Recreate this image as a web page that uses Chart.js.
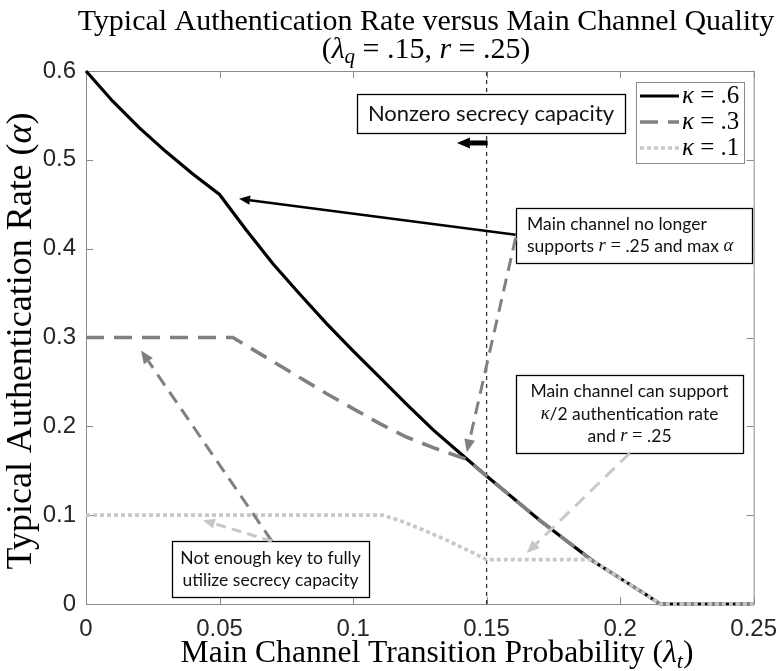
<!DOCTYPE html>
<html lang="en">
<head>
  <meta charset="UTF-8">
  <title>Typical Authentication Rate versus Main Channel Quality</title>
  <script src="https://cdn.jsdelivr.net/npm/chart.js"></script>
  <style>
    body { margin: 0; padding: 0; background: #fff; }
    .chart-wrapper { width: 780px; height: 671px; }
  </style>
</head>
<body>
  <div class="chart-wrapper"><canvas id="authChart" width="780" height="671"></canvas></div>

  <script>
    // kappa = .6 (solid black)
    const lambdaK6 = [0, 0.01, 0.02, 0.03, 0.04, 0.05, 0.06, 0.07, 0.08, 0.09, 0.10, 0.11, 0.12, 0.13, 0.14, 0.15, 0.16, 0.17, 0.18, 0.19, 0.20, 0.21, 0.215, 0.25];
    const alphaK6  = [0.6, 0.566, 0.536, 0.509, 0.484, 0.461, 0.421, 0.383, 0.349, 0.316, 0.285, 0.255, 0.225, 0.196, 0.170, 0.144, 0.119, 0.094, 0.071, 0.048, 0.029, 0.010, 0, 0];

    // kappa = .3 (gray dashed)
    const lambdaK3 = [0, 0.055, 0.07, 0.08, 0.09, 0.10, 0.11, 0.12, 0.13, 0.1425, 0.15, 0.16, 0.17, 0.18, 0.19, 0.20, 0.21, 0.215, 0.25];
    const alphaK3  = [0.3, 0.3, 0.273, 0.255, 0.237, 0.220, 0.203, 0.188, 0.176, 0.163, 0.144, 0.119, 0.094, 0.071, 0.048, 0.029, 0.010, 0, 0];

    // kappa = .1 (light gray dotted)
    const lambdaK1 = [0, 0.111, 0.1175, 0.125, 0.135, 0.1426, 0.15, 0.1885, 0.19, 0.20, 0.21, 0.215, 0.25];
    const alphaK1  = [0.1, 0.1, 0.094, 0.085, 0.072, 0.061, 0.05, 0.05, 0.048, 0.029, 0.010, 0, 0];

    const lambdaQ = 0.15;

    const seriesLabels = ["κ = .6", "κ = .3", "κ = .1"];

    const xTickValues = [0, 0.05, 0.1, 0.15, 0.2, 0.25];
    const xTickLabels = ["0", "0.05", "0.1", "0.15", "0.2", "0.25"];
    const yTickValues = [0, 0.1, 0.2, 0.3, 0.4, 0.5, 0.6];
    const yTickLabels = ["0", "0.1", "0.2", "0.3", "0.4", "0.5", "0.6"];

    const SERIF = "'Liberation Serif', serif";
    const SANS = "'Liberation Sans', Arial, sans-serif";
    const NOTE = "Lato, 'Open Sans', sans-serif";

    // text boxes, corners in data units; each line is a list of [text, style]
    const notes = [
      { x0: 0.1014, x1: 0.2017, y0: 0.574, y1: 0.5303, size: 22, align: "center",
        lines: [[["Nonzero secrecy capacity", ""]]] },
      { x0: 0.1609, x1: 0.2493, y0: 0.446, y1: 0.384, size: 17.5, align: "left",
        lines: [[["Main channel no longer", ""]],
                [["supports ", ""], ["r", "m"], [" = ", "o"], [".25 and max ", ""], ["α", "m"]]] },
      { x0: 0.1609, x1: 0.2459, y0: 0.2573, y1: 0.1697, size: 17.5, align: "center",
        lines: [[["Main channel can support", ""]],
                [["κ", "m"], ["/2 authentication rate", ""]],
                [["and ", ""], ["r", "m"], [" = ", "o"], [".25", ""]]] },
      { x0: 0.0322, x1: 0.1059, y0: 0.0708, y1: 0.0079, size: 17.5, align: "center",
        lines: [[["Not enough key to fully", ""]],
                [["utilize secrecy capacity", ""]]] }
    ];

    // arrows, from -> to in data units
    const arrows = [
      { from: [0.1609, 0.4157], to: [0.0573, 0.4562], color: "#000000", width: 2.5, dash: [], head: 11 },
      { from: [0.1609, 0.4124], to: [0.1426, 0.1708], color: "#808080", width: 3, dash: [13, 8], head: 13 },
      { from: [0.0696, 0.0708], to: [0.0206, 0.2854], color: "#808080", width: 3, dash: [13, 8], head: 13 },
      { from: [0.0696, 0.0708], to: [0.0438, 0.0944], color: "#c8c8c8", width: 3, dash: [10, 6], head: 12 },
      { from: [0.2036, 0.1697], to: [0.1650, 0.0573], color: "#c8c8c8", width: 3, dash: [13, 8], head: 13 },
      { from: [0.1504, 0.519], to: [0.1389, 0.519], color: "#000000", width: 5, dash: [], head: 13 }
    ];

    function fontFor(style, size) {
      if (style === "m") return "italic " + (size + 1) + "px " + SERIF;
      if (style === "o") return (size + 1) + "px " + SERIF;
      if (style === "s") return "italic " + Math.round(size * 0.7) + "px " + SERIF;
      if (style === "si") return "italic " + size + "px " + SERIF;
      if (style === "t") return size + "px " + SERIF;
      return size + "px " + NOTE;
    }

    function richWidth(ctx, parts, size) {
      let w = 0;
      parts.forEach(([t, st]) => {
        ctx.font = fontFor(st, size);
        w += ctx.measureText(t).width;
      });
      return w;
    }

    // font size that makes a label span a given width
    function fitSize(ctx, parts, target) {
      return 30 * target / richWidth(ctx, parts, 30);
    }

    function drawRich(ctx, parts, x, y, size, align) {
      const w = richWidth(ctx, parts, size);
      let cx = align === "center" ? x - w / 2 : x;
      ctx.textBaseline = "middle";
      ctx.textAlign = "left";
      parts.forEach(([t, st]) => {
        ctx.font = fontFor(st, size);
        const dy = st === "s" ? size * 0.25 : 0;
        ctx.fillText(t, cx, y + dy);
        cx += ctx.measureText(t).width;
      });
    }

    function drawArrow(ctx, x0, y0, x1, y1, a) {
      const ang = Math.atan2(y1 - y0, x1 - x0);
      const h = a.head;
      const bx = x1 - Math.cos(ang) * h, by = y1 - Math.sin(ang) * h;
      ctx.save();
      ctx.strokeStyle = a.color;
      ctx.fillStyle = a.color;
      ctx.lineWidth = a.width;
      ctx.setLineDash(a.dash);
      ctx.beginPath();
      ctx.moveTo(x0, y0);
      ctx.lineTo(bx, by);
      ctx.stroke();
      ctx.setLineDash([]);
      const hw = h * 0.42;
      ctx.beginPath();
      ctx.moveTo(x1, y1);
      ctx.lineTo(bx + Math.sin(ang) * hw, by - Math.cos(ang) * hw);
      ctx.lineTo(bx - Math.sin(ang) * hw, by + Math.cos(ang) * hw);
      ctx.closePath();
      ctx.fill();
      ctx.restore();
    }

    const axesBox = {
      id: 'axesBox',
      beforeDatasetsDraw(chart) {
        const { ctx, chartArea: a, scales: { x, y } } = chart;
        ctx.save();
        ctx.strokeStyle = "#8a8a8a";
        ctx.lineWidth = 1;
        ctx.strokeRect(a.left + 0.5, a.top + 0.5, a.right - a.left, a.bottom - a.top);
        const tl = 7;
        ctx.beginPath();
        xTickValues.forEach(v => {
          const px = Math.round(x.getPixelForValue(v)) + 0.5;
          ctx.moveTo(px, a.bottom); ctx.lineTo(px, a.bottom - tl);
          ctx.moveTo(px, a.top); ctx.lineTo(px, a.top + tl);
        });
        yTickValues.forEach(v => {
          const py = Math.round(y.getPixelForValue(v)) + 0.5;
          ctx.moveTo(a.left, py); ctx.lineTo(a.left + tl, py);
          ctx.moveTo(a.right, py); ctx.lineTo(a.right - tl, py);
        });
        ctx.stroke();
        ctx.restore();
      },
      afterDraw(chart) {
        const { ctx, chartArea: a, scales: { x, y } } = chart;
        ctx.save();
        ctx.fillStyle = "#000";
        const t1 = [["Typical Authentication Rate versus Main Channel Quality", "t"]];
        const t2 = [["(", "t"], ["λ", "si"], ["q", "s"], [" = .15, ", "t"], ["r", "si"], [" = .25)", "t"]];
        const xl = [["Main Channel Transition Probability (", "t"], ["λ", "si"], ["t", "s"], [")", "t"]];
        const yl = [["Typical Authentication Rate (", "t"], ["α", "si"], [")", "t"]];
        const ts = fitSize(ctx, t1, 697);
        drawRich(ctx, t1, 426, 22, ts, "center");
        drawRich(ctx, t2, 426, 50, ts, "center");
        drawRich(ctx, xl, 437, 654, fitSize(ctx, xl, 513), "center");
        ctx.translate(22, 341);
        ctx.rotate(-Math.PI / 2);
        drawRich(ctx, yl, 0, 0, fitSize(ctx, yl, 457), "center");
        ctx.restore();

        // legend
        ctx.save();
        const lx0 = 636, ly0 = 82, lx1 = 744, ly1 = 163;
        ctx.fillStyle = "#fff";
        ctx.fillRect(lx0, ly0, lx1 - lx0, ly1 - ly0);
        ctx.strokeStyle = "#8a8a8a";
        ctx.lineWidth = 1;
        ctx.strokeRect(lx0 + 0.5, ly0 + 0.5, lx1 - lx0, ly1 - ly0);
        const rows = [96, 122, 148];
        chart.data.datasets.slice(0, 3).forEach((ds, i) => {
          ctx.strokeStyle = ds.borderColor;
          ctx.lineWidth = ds.borderWidth;
          ctx.setLineDash(ds.borderDash || []);
          ctx.beginPath();
          ctx.moveTo(640, rows[i]);
          ctx.lineTo(679, rows[i]);
          ctx.stroke();
          ctx.setLineDash([]);
          ctx.fillStyle = "#000";
          const lab = ds.label;
          drawRich(ctx, [[lab.slice(0, 1), "si"], [lab.slice(1), "t"]], 682, rows[i], 25, "left");
        });
        ctx.restore();

        // text boxes
        ctx.save();
        notes.forEach(n => {
          const bx0 = Math.round(x.getPixelForValue(n.x0)), bx1 = Math.round(x.getPixelForValue(n.x1));
          const by0 = Math.round(y.getPixelForValue(n.y0)), by1 = Math.round(y.getPixelForValue(n.y1));
          ctx.fillStyle = "#fff";
          ctx.fillRect(bx0, by0, bx1 - bx0, by1 - by0);
          ctx.strokeStyle = "#000";
          ctx.lineWidth = 1.3;
          ctx.strokeRect(bx0 + 0.5, by0 + 0.5, bx1 - bx0, by1 - by0);
          ctx.fillStyle = "#111";
          const lh = n.size * 1.27;
          const mid = (by0 + by1) / 2;
          n.lines.forEach((ln, k) => {
            const ly = mid + (k - (n.lines.length - 1) / 2) * lh;
            if (n.align === "center") drawRich(ctx, ln, (bx0 + bx1) / 2, ly, n.size, "center");
            else drawRich(ctx, ln, bx0 + 11, ly, n.size, "left");
          });
        });
        arrows.forEach(ar => {
          drawArrow(ctx, x.getPixelForValue(ar.from[0]), y.getPixelForValue(ar.from[1]),
            x.getPixelForValue(ar.to[0]), y.getPixelForValue(ar.to[1]), ar);
        });
        ctx.restore();
      }
    };

    const toPoints = (xs, ys) => xs.map((v, i) => ({ x: v, y: ys[i] }));

    const ctx = document.getElementById("authChart").getContext("2d");
    new Chart(ctx, {
      type: 'scatter',
      data: {
        datasets: [
          {
            label: seriesLabels[0],
            data: toPoints(lambdaK6, alphaK6),
            showLine: true, borderColor: "#000000", borderWidth: 3.2,
            pointRadius: 0, clip: false, order: 3
          },
          {
            label: seriesLabels[1],
            data: toPoints(lambdaK3, alphaK3),
            showLine: true, borderColor: "#808080", borderWidth: 3.6, borderDash: [18, 10],
            pointRadius: 0, clip: false, order: 2
          },
          {
            label: seriesLabels[2],
            data: toPoints(lambdaK1, alphaK1),
            showLine: true, borderColor: "#c8c8c8", borderWidth: 3.6, borderDash: [4, 3],
            pointRadius: 0, clip: false, order: 1
          },
          {
            label: "lambda_q",
            data: [{ x: lambdaQ, y: 0 }, { x: lambdaQ, y: 0.6 }],
            showLine: true, borderColor: "#333333", borderWidth: 1.3, borderDash: [4, 4],
            pointRadius: 0, order: 4
          }
        ]
      },
      options: {
        responsive: false,
        animation: false,
        layout: { padding: { top: 71, right: 26, left: 0, bottom: 0 } },
        scales: {
          x: {
            type: 'linear', min: 0, max: 0.25,
            afterBuildTicks: s => { s.ticks = xTickValues.map(v => ({ value: v })); },
            afterFit: s => { s.height = 67; },
            ticks: {
              callback: (v, i) => xTickLabels[i],
              font: { family: SANS, size: 24 }, color: "#262626", padding: 3, maxRotation: 0
            },
            grid: { display: false },
            border: { display: false }
          },
          y: {
            type: 'linear', min: 0, max: 0.6,
            afterBuildTicks: s => { s.ticks = yTickValues.map(v => ({ value: v })); },
            afterFit: s => { s.width = 86; },
            ticks: {
              callback: (v, i) => yTickLabels[i],
              font: { family: SANS, size: 24 }, color: "#262626", padding: 2
            },
            grid: { display: false },
            border: { display: false }
          }
        },
        plugins: {
          legend: { display: false },
          tooltip: { enabled: false }
        }
      },
      plugins: [axesBox]
    });
  </script>
</body>
</html>
